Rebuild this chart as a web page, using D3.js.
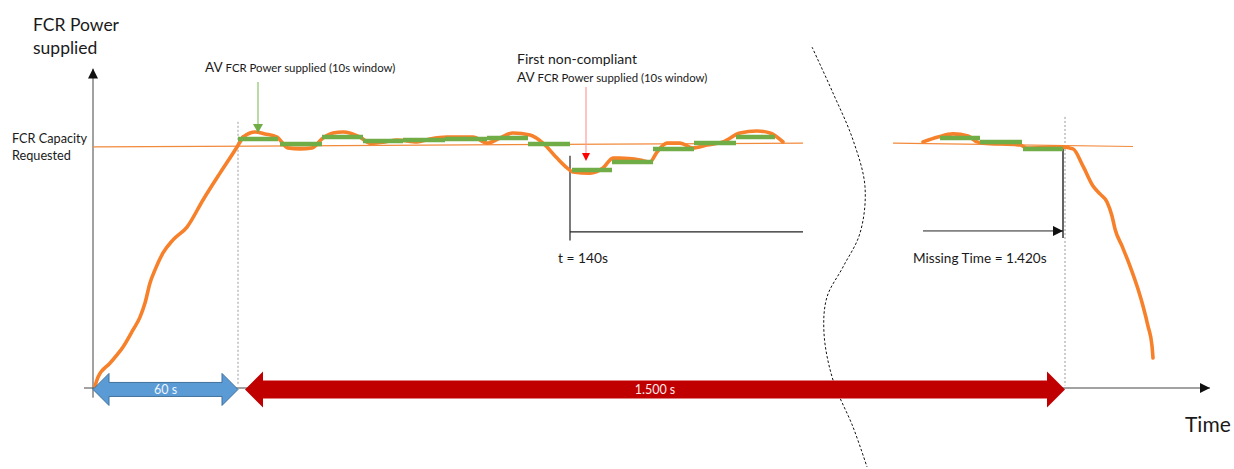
<!DOCTYPE html>
<html>
<head>
<meta charset="utf-8">
<script src="https://cdn.jsdelivr.net/npm/d3@7"></script>
<style>
  body { margin: 0; background: #fff; }
  text { font-family: Lato, "Open Sans", sans-serif; fill: #1a1a1a; }
</style>
</head>
<body>
<div id="chart"></div>
<script>
// Diagram size
var svgWidth = 1234;
var svgHeight = 469;

// x = diagram time units from the origin, y = % of FCR capacity requested
var rampPoints = [[2,0.8],[5,4.5],[17,10.3],[30,16.9],[40,24],[47,29.3],[52,35.1],[57,43.4],[62,48.8],
  [70,55.8],[80,61.2],[94,66.5],[110,77.7],[127,88.8],[144,99.6],[150,103.7]];
var powerPoints = [[150,103.7],[157,105.4],[162,105.8],[172,105],[184,103.7],[195,99.2],[207,98.8],[219,99.2],
  [230,103.3],[240,105.4],[250,105.8],[267,103.7],[277,101.2],[292,101.7],[304,102.5],[324,101.7],
  [337,102.9],[354,103.7],[380,103.7],[394,101.2],[407,103.3],[420,105.4],[437,104.5],[450,101.2],
  [464,95],[472,91.7],[480,89.3],[497,88.8],[510,90.9],[520,95],[527,95],[547,94.2],[557,93.4],
  [564,97.5],[574,101.2],[587,101.2],[600,99.2],[614,100.4],[630,101.7],[647,105.4],[664,106.2],
  [677,105.4],[690,101.7]];
var endPoints = [[830,101.7],[845,103.7],[860,105],[875,104.1],[884,101.7],[890,101.2],[927,100.4],
  [934,99.2],[969,99.6],[980,98.8],[990,91.7],[1000,83.5],[1007,80.2],[1014,76.9],[1019,71.1],
  [1022,65.7],[1029,58.7],[1037,50.4],[1045,40.9],[1050,33.9],[1055,25.6],[1059,17.4],[1060,12.4]];

// 10s window averages: [start, end, value]
var avgSegments = [[145,185,102.9],[187,229,100.8],[229,270,103.7],[270,310,102.1],[310,352,102.5],
  [352,394,102.9],[394,435,103.3],[435,477,100.8],[479,519,90.1],[519,560,93.4],[560,601,98.8],
  [601,643,101.2],[643,682,103.7],[847,887,103.3],[887,929,101.7],[930,970,98.8]];

// capacity requested line, drawn in two pieces around the time break
var capacityLines = [[[0,99.6],[710,101.2]], [[800,101.2],[1040,99.8]]];

// time break (dashed wavy line)
var breakPoints = [[719,140.9],[740,121.9],[760,102.5],[772,83.1],[767,64],[750,50],[734,37.6],
  [731,22.7],[740,3.3],[760,-16.1],[774,-32.6]];

// key times
var rampEnd = 145, firstFail = 477, periodEnd = 972, failEnd = 970, axisEnd = 1117, yTop = 132;
var periodLabels = ["60 s", "1.500 s"];

var x = d3.scaleLinear().domain([0, 1120]).range([93, 1213]);
var y = d3.scaleLinear().domain([0, 100]).range([388, 146]);

var svg = d3.select("#chart").append("svg")
  .attr("width", svgWidth)
  .attr("height", svgHeight);

var defs = svg.append("defs");
defs.append("marker").attr("id", "blackHead")
  .attr("viewBox", "0 0 10 10").attr("refX", 10).attr("refY", 5)
  .attr("markerWidth", 10).attr("markerHeight", 10).attr("markerUnits", "userSpaceOnUse")
  .attr("orient", "auto")
  .append("path").attr("d", "M0,0L10,5L0,10Z").attr("fill", "#111");

// axes
svg.append("line")
  .attr("x1", x(0)).attr("y1", y(-4)).attr("x2", x(0)).attr("y2", y(yTop))
  .attr("stroke", "#444").attr("stroke-width", 1).attr("marker-end", "url(#blackHead)");
svg.append("line")
  .attr("x1", x(-9)).attr("y1", y(0)).attr("x2", x(axisEnd)).attr("y2", y(0))
  .attr("stroke", "#444").attr("stroke-width", 1).attr("marker-end", "url(#blackHead)");

// dashed guides
[rampEnd, periodEnd].forEach(function(t, i) {
  svg.append("line")
    .attr("x1", x(t)).attr("x2", x(t))
    .attr("y1", y(i == 0 ? 110 : 112)).attr("y2", y(1))
    .attr("stroke", "#9a9a9a").attr("stroke-dasharray", "2,2");
});

// capacity lines
var line = d3.line().x(d => x(d[0])).y(d => y(d[1]));
capacityLines.forEach(function(pts) {
  svg.append("path").attr("d", line(pts))
    .attr("fill", "none").attr("stroke", "#F28A3C").attr("stroke-width", 1.2);
});

// non-compliant / missing time markers
svg.append("line").attr("x1", x(firstFail)).attr("x2", x(firstFail))
  .attr("y1", y(96)).attr("y2", y(61)).attr("stroke", "#333").attr("stroke-width", 1.3);
svg.append("line").attr("x1", x(firstFail)).attr("x2", x(710))
  .attr("y1", y(64.5)).attr("y2", y(64.5)).attr("stroke", "#222").attr("stroke-width", 1.3);
svg.append("line").attr("x1", x(failEnd)).attr("x2", x(failEnd))
  .attr("y1", y(99.6)).attr("y2", y(62)).attr("stroke", "#111").attr("stroke-width", 1.3);
svg.append("line").attr("x1", x(830)).attr("x2", x(failEnd))
  .attr("y1", y(64.9)).attr("y2", y(64.9)).attr("stroke", "#222").attr("stroke-width", 1)
  .attr("marker-end", "url(#blackHead)");

// supplied power curve
var smooth = d3.line().x(d => x(d[0])).y(d => y(d[1])).curve(d3.curveMonotoneX);
[rampPoints, powerPoints, endPoints].forEach(function(pts) {
  svg.append("path").attr("d", smooth(pts))
    .attr("fill", "none").attr("stroke", "#F7802A").attr("stroke-width", 3.6)
    .attr("stroke-linecap", "round").attr("stroke-linejoin", "round");
});

// averages
svg.selectAll(".avg").data(avgSegments).enter().append("line")
  .attr("class", "avg")
  .attr("x1", d => x(d[0])).attr("x2", d => x(d[1]))
  .attr("y1", d => y(d[2])).attr("y2", d => y(d[2]))
  .attr("stroke", "#70AD47").attr("stroke-width", 4.5);

// break line
var wavy = d3.line().x(d => x(d[0])).y(d => y(d[1])).curve(d3.curveCatmullRom);
svg.append("path").attr("d", wavy(breakPoints))
  .attr("fill", "none").attr("stroke", "#111").attr("stroke-width", 1)
  .attr("stroke-dasharray", "2.5,2");

// period arrows
function dblArrow(x0, x1, cy, sh, hh, hl) {
  return [[x0,cy],[x0+hl,cy-hh],[x0+hl,cy-sh],[x1-hl,cy-sh],[x1-hl,cy-hh],[x1,cy],
    [x1-hl,cy+hh],[x1-hl,cy+sh],[x0+hl,cy+sh],[x0+hl,cy+hh]].join(" ");
}
svg.append("polygon")
  .attr("points", dblArrow(x(0), x(rampEnd), y(-0.6), 7, 16, 16))
  .attr("fill", "#5B9BD5").attr("stroke", "#41719C").attr("stroke-width", 1);
svg.append("polygon")
  .attr("points", dblArrow(x(152), x(periodEnd), y(-0.6), 9, 18, 18))
  .attr("fill", "#C00000");
svg.append("text").attr("x", x(rampEnd / 2)).attr("y", y(-0.6) + 4.5)
  .attr("text-anchor", "middle").style("fill", "#eef4fb").style("font-size", "12.5px")
  .text(periodLabels[0]);
svg.append("text").attr("x", 655).attr("y", y(-0.6) + 4.5)
  .attr("text-anchor", "middle").style("fill", "#fbe9e9").style("font-size", "12.5px")
  .text(periodLabels[1]);

// annotation arrows
svg.append("line").attr("x1", 258).attr("x2", 258).attr("y1", 82).attr("y2", 124)
  .attr("stroke", "#8CC36A").attr("stroke-width", 1.2);
svg.append("path").attr("d", "M253,124L263,124L258,133Z").attr("fill", "#70AD47");
svg.append("line").attr("x1", 586).attr("x2", 586).attr("y1", 87).attr("y2", 153)
  .attr("stroke", "#FF9C9C").attr("stroke-width", 1.2);
svg.append("path").attr("d", "M582,153L590,153L586,161Z").attr("fill", "#FF0000");

// texts
svg.append("text").attr("x", 33).attr("y", 31).style("font-size", "17.5px").text("FCR Power");
svg.append("text").attr("x", 33).attr("y", 54).style("font-size", "17.5px").text("supplied");
svg.append("text").attr("x", 12).attr("y", 143).style("font-size", "12.7px").text("FCR Capacity");
svg.append("text").attr("x", 12).attr("y", 160).style("font-size", "12.7px").text("Requested");

function avLabel(x0, y0) {
  var t = svg.append("text").attr("x", x0).attr("y", y0);
  t.append("tspan").style("font-size", "13.5px").text("AV ");
  t.append("tspan").style("font-size", "11.4px").text("FCR Power supplied  (10s window)");
}
avLabel(205, 72);
svg.append("text").attr("x", 517).attr("y", 64).style("font-size", "14px").text("First non-compliant");
avLabel(517, 82);

svg.append("text").attr("x", 558).attr("y", 263).style("font-size", "13.8px").text("t = 140s");
svg.append("text").attr("x", 913).attr("y", 263).style("font-size", "13.6px").text("Missing Time = 1.420s");
svg.append("text").attr("x", 1185).attr("y", 432).style("font-size", "21px").text("Time");
</script>
</body>
</html>
